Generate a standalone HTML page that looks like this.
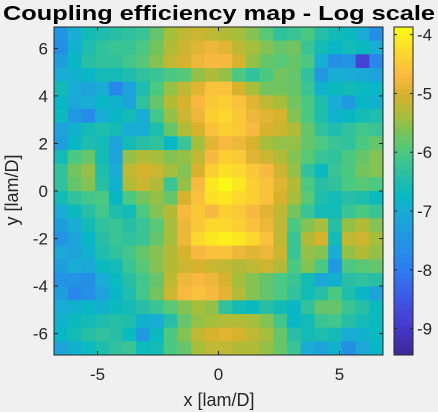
<!DOCTYPE html>
<html><head><meta charset="utf-8"><style>
html,body{margin:0;padding:0;background:#f0f0f0;width:438px;height:412px;overflow:hidden}
svg{display:block;font-family:"Liberation Sans",sans-serif}
</style></head><body>
<svg id="chart" width="438" height="412" viewBox="0 0 438 412">
<rect x="0" y="0" width="438" height="412" fill="#f0f0f0"/>
<text x="219" y="20" text-anchor="middle" font-size="20" font-weight="bold" fill="#000" textLength="432" lengthAdjust="spacingAndGlyphs">Coupling efficiency map - Log scale</text>
<g id="cells"></g>
<g id="axes"></g>
<g id="cbar"></g>
<text x="219" y="406" text-anchor="middle" font-size="18" fill="#262626">x [lam/D]</text>
<text transform="translate(18,190) rotate(-90)" text-anchor="middle" font-size="18" fill="#262626">y [lam/D]</text>
</svg>
<script>
const xTicks = [-5, 0, 5];
const yTicks = [-6, -4, -2, 0, 2, 4, 6];
const cTicks = [-4, -5, -6, -7, -8, -9];
const xRange = [-6.8, 6.8];
const yRange = [-6.9, 6.9];
const cRange = [-9.45, -3.87];
const grid = [
[-7.5,-7.0,-6.6,-6.5,-6.4,-6.3,-6.2,-5.8,-5.4,-5.2,-5.1,-5.2,-5.3,-5.4,-5.6,-5.9,-6.3,-6.2,-6.0,-6.4,-6.6,-6.7,-7.0,-7.6],
[-7.6,-6.9,-6.5,-6.3,-6.2,-6.2,-6.0,-5.7,-5.3,-5.1,-4.9,-4.8,-4.9,-5.2,-5.4,-5.6,-5.8,-5.7,-6.2,-6.6,-6.8,-6.6,-6.7,-7.0],
[-7.3,-6.8,-6.4,-6.3,-6.3,-6.1,-5.9,-5.6,-5.2,-5.0,-4.8,-4.7,-4.7,-5.0,-5.5,-5.8,-5.9,-5.8,-6.0,-7.0,-7.6,-7.5,-8.8,-7.8],
[-7.0,-6.9,-6.8,-6.6,-6.6,-6.5,-6.3,-6.2,-6.0,-5.9,-5.5,-5.3,-5.5,-6.0,-6.3,-6.0,-5.7,-5.8,-6.3,-7.4,-7.0,-7.0,-7.1,-7.2],
[-6.6,-7.0,-7.2,-7.0,-7.8,-7.2,-6.5,-6.0,-5.5,-5.2,-4.9,-4.6,-4.6,-5.0,-5.4,-5.7,-5.7,-5.8,-6.2,-6.9,-6.7,-6.6,-6.7,-6.8],
[-6.8,-7.1,-7.0,-6.8,-6.9,-7.2,-6.3,-5.8,-5.3,-5.0,-4.7,-4.5,-4.4,-4.6,-4.9,-5.2,-5.4,-5.7,-6.0,-6.5,-7.0,-7.4,-6.8,-6.9],
[-6.7,-7.4,-7.7,-7.0,-6.8,-6.6,-7.0,-6.1,-5.5,-5.1,-4.8,-4.4,-4.3,-4.5,-4.8,-4.9,-5.0,-5.6,-6.0,-6.5,-6.9,-6.8,-6.6,-6.5],
[-7.2,-6.9,-6.6,-6.5,-6.6,-7.0,-7.0,-6.5,-5.8,-5.3,-5.0,-4.6,-4.4,-4.5,-4.7,-5.0,-5.1,-5.3,-5.8,-6.3,-6.5,-6.3,-6.1,-6.2],
[-7.3,-6.8,-6.5,-6.6,-7.2,-6.6,-6.4,-6.3,-6.8,-6.2,-5.4,-4.9,-4.7,-4.8,-5.0,-5.4,-5.5,-5.5,-5.8,-6.0,-6.2,-6.3,-6.0,-5.8],
[-6.6,-6.0,-5.8,-6.6,-7.2,-5.5,-5.3,-5.4,-5.6,-5.5,-5.2,-4.7,-4.4,-4.5,-4.9,-5.1,-5.3,-5.6,-5.9,-6.2,-6.3,-6.0,-5.8,-5.6],
[-6.3,-5.7,-5.5,-6.5,-7.0,-5.2,-5.0,-5.1,-5.4,-5.6,-5.0,-4.4,-4.2,-4.3,-4.5,-4.7,-5.1,-5.5,-6.3,-6.7,-6.2,-6.0,-5.7,-5.6],
[-6.3,-5.8,-5.6,-6.4,-6.9,-5.3,-5.1,-5.3,-6.2,-5.5,-4.7,-4.1,-3.9,-4.1,-4.4,-4.6,-4.9,-5.3,-6.0,-6.4,-6.3,-6.0,-5.9,-6.0],
[-6.6,-6.3,-6.1,-6.0,-6.8,-6.0,-5.7,-5.5,-5.8,-5.0,-4.6,-4.2,-4.1,-4.3,-4.4,-4.6,-5.0,-5.4,-5.9,-6.5,-6.6,-6.4,-6.5,-6.7],
[-7.0,-6.7,-6.4,-6.1,-6.5,-6.6,-6.0,-5.6,-5.3,-4.7,-4.5,-4.7,-4.4,-4.5,-4.7,-4.9,-5.2,-5.7,-6.2,-6.6,-6.6,-6.2,-6.0,-6.2],
[-7.3,-7.0,-6.6,-6.3,-6.2,-6.4,-6.2,-5.9,-5.4,-4.8,-4.5,-4.3,-4.3,-4.4,-4.6,-4.8,-5.2,-6.0,-5.6,-5.4,-6.4,-5.5,-5.3,-5.6],
[-7.5,-7.2,-6.8,-6.4,-6.2,-6.3,-6.2,-5.8,-5.4,-4.8,-4.3,-4.1,-4.0,-4.1,-4.3,-4.6,-5.2,-6.2,-5.3,-5.0,-6.6,-5.2,-5.1,-5.4],
[-7.1,-7.2,-6.9,-6.5,-6.3,-6.1,-5.8,-5.6,-5.3,-5.0,-4.7,-4.6,-4.6,-4.8,-4.9,-4.8,-5.1,-6.2,-5.5,-5.6,-7.0,-5.5,-5.3,-5.5],
[-7.3,-7.0,-7.1,-6.7,-6.6,-6.2,-5.9,-5.6,-5.3,-5.1,-5.0,-5.1,-5.2,-5.3,-5.2,-5.1,-5.3,-6.0,-5.6,-6.0,-7.4,-6.0,-5.9,-5.8],
[-7.5,-7.5,-7.6,-7.0,-6.7,-6.4,-6.1,-5.8,-5.2,-4.8,-4.7,-4.8,-5.0,-5.4,-5.6,-5.8,-6.0,-6.2,-6.6,-7.1,-6.9,-6.4,-6.3,-6.4],
[-7.3,-7.8,-7.6,-7.2,-6.8,-6.5,-6.1,-5.7,-5.1,-4.7,-4.6,-4.7,-4.9,-5.3,-5.6,-5.8,-6.0,-6.3,-6.6,-6.4,-6.0,-6.5,-6.8,-7.2],
[-7.0,-6.9,-6.8,-6.9,-6.7,-6.6,-6.4,-6.2,-5.9,-5.6,-5.4,-5.5,-6.3,-6.6,-6.7,-6.4,-6.6,-6.8,-6.3,-5.8,-5.8,-6.2,-6.4,-6.7],
[-6.9,-6.7,-6.6,-6.5,-6.4,-6.5,-6.9,-7.0,-6.4,-5.8,-5.5,-5.4,-5.3,-5.3,-5.4,-5.6,-6.1,-6.8,-6.6,-6.2,-6.1,-6.4,-6.6,-6.7],
[-6.8,-6.6,-6.4,-6.3,-6.4,-6.7,-7.4,-6.7,-6.0,-5.6,-5.2,-5.0,-4.9,-5.0,-5.2,-5.4,-5.8,-6.4,-6.6,-6.5,-6.6,-7.0,-6.9,-6.7],
[-7.2,-6.9,-6.7,-6.5,-6.3,-6.2,-6.7,-6.6,-6.0,-5.8,-5.4,-5.2,-5.2,-5.3,-5.3,-5.5,-5.8,-6.2,-7.0,-7.2,-6.9,-7.6,-7.1,-6.8]
];
const P = {l:54, r:383, t:27, b:355};
const CB = {l:394, r:413, t:27, b:355};
const NS = "http://www.w3.org/2000/svg";
function xScale(v){return P.l + (v - xRange[0])/(xRange[1]-xRange[0])*(P.r-P.l);}
function yScale(v){return P.b - (v - yRange[0])/(yRange[1]-yRange[0])*(P.b-P.t);}
function cScale(v){return CB.b - (v - cRange[0])/(cRange[1]-cRange[0])*(CB.b-CB.t);}
const cmV=[-9.45,-9.0,-8.5,-8.0,-7.5,-7.0,-6.75,-6.4,-6.0,-5.7,-5.4,-5.0,-4.7,-4.3,-3.87];
const cmC=[[60,40,150],[70,55,200],[65,85,232],[45,125,240],[35,148,228],[25,172,212],[5,185,195],[40,190,165],[75,200,130],[115,196,95],[165,190,60],[215,178,45],[248,185,65],[252,215,45],[250,250,20]];
function color(v){
  if(v<=cmV[0]) return 'rgb('+cmC[0].join(',')+')';
  for(let i=0;i<cmV.length-1;i++){ if(v<=cmV[i+1]){const t=(v-cmV[i])/(cmV[i+1]-cmV[i]);const a=cmC[i],b=cmC[i+1];
    return 'rgb('+a.map((c,k)=>Math.round(c+(b[k]-c)*t)).join(',')+')';}}
  return 'rgb('+cmC[cmC.length-1].join(',')+')';
}
function mk(tag,attrs,parent){const e=document.createElementNS(NS,tag);for(const k in attrs)e.setAttribute(k,attrs[k]);parent.appendChild(e);return e;}
const cells=document.getElementById('cells');
const nr=grid.length,nc=grid[0].length;
const dx=(xRange[1]-xRange[0])/nc, dy=(yRange[1]-yRange[0])/nr;
grid.forEach((row,j)=>row.forEach((v,i)=>{
  const x0=xRange[0]+i*dx, y1=yRange[1]-j*dy;
  const r=mk('rect',{x:xScale(x0),y:yScale(y1),width:xScale(x0+dx)-xScale(x0)+0.5,height:yScale(y1-dy)-yScale(y1)+0.5,fill:color(v)},cells);
  
  
}));
const ax=document.getElementById('axes');
const box=mk('rect',{x:P.l,y:P.t,width:P.r-P.l,height:P.b-P.t,fill:'none',stroke:'#262626','stroke-width':1},ax);


xTicks.forEach(t=>{const x=xScale(t);
  mk('line',{x1:x,x2:x,y1:P.b,y2:P.b-4,stroke:'#262626'},ax);
  mk('line',{x1:x,x2:x,y1:P.t,y2:P.t+4,stroke:'#262626'},ax);
  const tx=mk('text',{x:x,y:P.b+25,'text-anchor':'middle','font-size':17,fill:'#262626'},ax);tx.textContent=t<0?'-'+Math.abs(t):String(t);
  
  
});
yTicks.forEach(t=>{const y=yScale(t);
  mk('line',{x1:P.l,x2:P.l+4,y1:y,y2:y,stroke:'#262626'},ax);
  mk('line',{x1:P.r,x2:P.r-4,y1:y,y2:y,stroke:'#262626'},ax);
  const tx=mk('text',{x:P.l-6,y:y+6,'text-anchor':'end','font-size':17,fill:'#262626'},ax);tx.textContent=t<0?'-'+Math.abs(t):String(t);
  
  
});
const cb=document.getElementById('cbar');
const N=64;
for(let k=0;k<N;k++){const v0=cRange[0]+k*(cRange[1]-cRange[0])/N,v1=cRange[0]+(k+1)*(cRange[1]-cRange[0])/N;
  const r=mk('rect',{x:CB.l,y:cScale(v1),width:CB.r-CB.l,height:cScale(v0)-cScale(v1)+0.5,fill:color((v0+v1)/2)},cb);
  
  
}
const cbf=mk('rect',{x:CB.l,y:CB.t,width:CB.r-CB.l,height:CB.b-CB.t,fill:'none',stroke:'#262626'},cb);


cTicks.forEach(t=>{const y=cScale(t);
  mk('line',{x1:CB.l,x2:CB.l+3,y1:y,y2:y,stroke:'#262626'},cb);
  mk('line',{x1:CB.r,x2:CB.r-3,y1:y,y2:y,stroke:'#262626'},cb);
  const tx=mk('text',{x:CB.r+4,y:y+6,'font-size':17,fill:'#262626'},cb);tx.textContent='-'+Math.abs(t);
  
  
});
</script>
</body></html>
